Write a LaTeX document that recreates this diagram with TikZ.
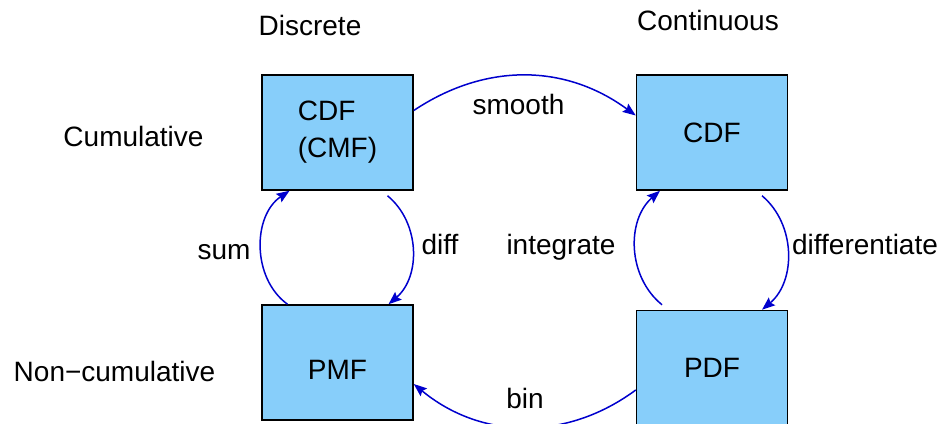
\documentclass[tikz,border=0pt]{standalone}
\usepackage{fontspec}
\setmainfont{Liberation Sans}
\usepackage{xcolor}
\usetikzlibrary{positioning,arrows.meta}
\definecolor{boxblue}{RGB}{135,206,250}
\definecolor{arrowblue}{RGB}{0,0,205}
\tikzset{
  every node/.style={font=\fontsize{14}{18.5}\selectfont},
  distbox/.style={draw=black,line width=0.75pt,fill=boxblue,minimum width=75.5pt,minimum height=57.5pt,inner sep=0pt},
  lowtext/.style={text height=16.9pt,text depth=0pt},
  conn/.style={arrowblue,line width=0.75pt,-{Stealth[length=6.5pt,width=5pt,inset=1pt]}},
  lbl/.style={anchor=base}
}
\begin{document}
\begin{tikzpicture}[x=0.5pt,y=-0.5pt]
\useasboundingbox (0,0) rectangle (940,423);
\node[distbox,align=left] (cdfd) at (337.5,132.5) {CDF\\(CMF)};
\node[distbox] (cdfc) at (712,132.5) {CDF};
\node[distbox,lowtext] (pmf) at (337.5,362.5) {PMF};
\node[distbox] (pdf) at (712,368) {PDF};

\node[lbl] (discrete) at (310,35) {Discrete};
\node[lbl] (continuous) at (708,30) {Continuous};
\node[lbl] (cumulative) at (133.5,146) {Cumulative};
\node[lbl] (noncumulative) at (114.5,381) {Non−cumulative};

\draw[conn] ([yshift=11pt]cdfd.east) to[bend left=35] ([yshift=8.5pt]cdfc.west);
\draw[conn] ([xshift=-25pt]pmf.north) to[bend left=55] ([xshift=-24pt]cdfd.south);
\draw[conn] ([xshift=25pt,yshift=-2.5pt]cdfd.south) to[bend left=50] ([xshift=25.5pt]pmf.north);
\draw[conn] ([xshift=-25pt,yshift=2.5pt]pdf.north) to[bend left=50] ([xshift=-26pt]cdfc.south);
\draw[conn] ([xshift=25pt,yshift=-2.5pt]cdfc.south) to[bend left=50] ([xshift=25pt]pdf.north);
\draw[conn] ([yshift=-11pt]pdf.west) to[bend left=38] ([yshift=-10.75pt]pmf.east);

\node[lbl] (smooth) at (518.5,114.5) {smooth};
\node[lbl] (sum) at (224,259) {sum};
\node[lbl] (diff) at (440,254) {diff};
\node[lbl] (integrate) at (561,254) {integrate};
\node[lbl] (differentiate) at (865,254) {differentiate};
\node[lbl] (bin) at (525,408) {bin};
\end{tikzpicture}
\end{document}
